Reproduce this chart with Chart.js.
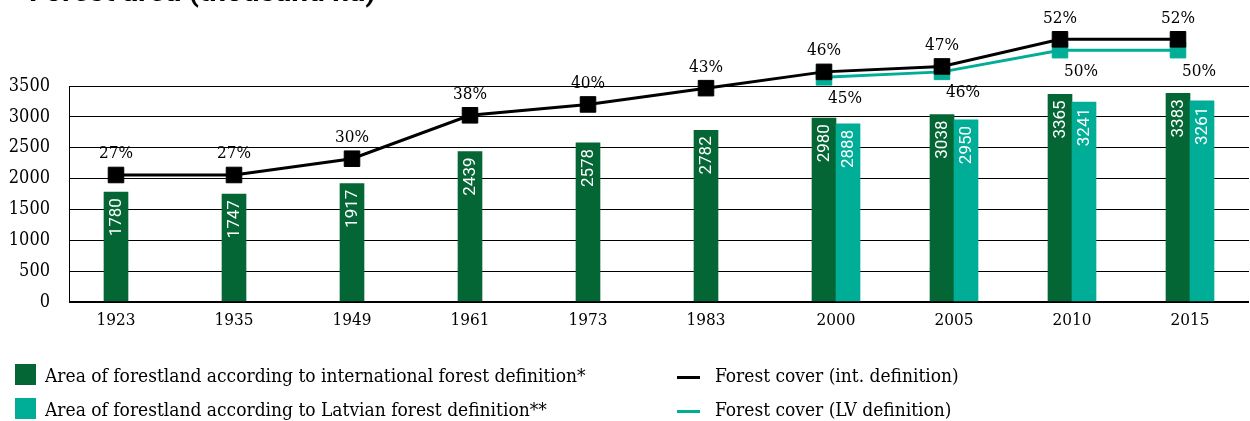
<!DOCTYPE html>
<html>
<head>
<meta charset="utf-8">
<script src="https://cdn.jsdelivr.net/npm/chart.js@4.4.1/dist/chart.umd.min.js"></script>
<style>
  html, body { margin: 0; padding: 0; background: #fff; }
  #wrap { position: relative; width: 1250px; height: 421px; }
</style>
</head>
<body>
<div id="wrap"><canvas id="forestChart"></canvas></div>
<script>
// Forest area (thousand ha) and forest cover (%) in Latvia
const years = ["1923", "1935", "1949", "1961", "1973", "1983", "2000", "2005", "2010", "2015"];
const areaIntl = [1780, 1747, 1917, 2439, 2578, 2782, 2980, 3038, 3365, 3383];
const areaLv = [null, null, null, null, null, null, 2888, 2950, 3241, 3261];
const coverIntl = [27, 27, 30, 38, 40, 43, 46, 47, 52, 52];
const coverLv = [null, null, null, null, null, null, 45, 46, 50, 50];
const areaTicks = [0, 500, 1000, 1500, 2000, 2500, 3000, 3500];

const title = "Forest area (thousand ha)";
const legendItems = [
    { text: "Area of forestland according to international forest definition*", kind: "box", color: "#046634" },
    { text: "Area of forestland according to Latvian forest definition**", kind: "box", color: "#00ad97" },
    { text: "Forest cover (int. definition)", kind: "line", color: "#000000" },
    { text: "Forest cover (LV definition)", kind: "line", color: "#00ad97" },
];

const DARK = "#046634";
const TEAL = "#00ad97";
const SERIF = "'DejaVu Serif Condensed', 'DejaVu Serif', serif";
const BAR_W = 24;          // px
const CAT_W = 118;         // px per year slot
const half = BAR_W / CAT_W / 2; // dark bar left of centre, teal right of it
const AREA_TOP = areaTicks[areaTicks.length - 1];

const labelPlugin = {
    id: "labels",
    beforeDatasetsDraw(chart) {
        // left axis line only as high as the last tick
        const ctx = chart.ctx;
        const y = chart.scales.y;
        const x = Math.round(chart.chartArea.left) + 0.5;
        ctx.save();
        ctx.strokeStyle = "#000";
        ctx.lineWidth = 1;
        ctx.beginPath();
        ctx.moveTo(x, y.getPixelForValue(0));
        ctx.lineTo(x, y.getPixelForValue(AREA_TOP));
        ctx.stroke();
        ctx.restore();
    },
    afterDatasetsDraw(chart) {
        const ctx = chart.ctx;
        ctx.save();

        // values inside the bars
        [areaIntl, areaLv].forEach((vals, di) => {
            chart.getDatasetMeta(di).data.forEach((bar, i) => {
                if (vals[i] == null) return;
                ctx.save();
                ctx.translate(bar.x, bar.y + 6);
                ctx.rotate(-Math.PI / 2);
                ctx.fillStyle = "#fff";
                ctx.font = "17px Roboto";
                ctx.textAlign = "right";
                ctx.textBaseline = "middle";
                ctx.fillText(String(vals[i]), 0, 1);
                ctx.restore();
            });
        });

        // percentage labels
        ctx.font = "17px " + SERIF;
        ctx.fillStyle = "#000";
        ctx.textAlign = "center";
        ctx.textBaseline = "middle";
        chart.getDatasetMeta(3).data.forEach((pt, i) => {
            if (coverIntl[i] == null) return;
            ctx.fillText(coverIntl[i] + "%", pt.x, pt.y - 21);
        });
        chart.getDatasetMeta(2).data.forEach((pt, i) => {
            if (coverLv[i] == null) return;
            ctx.fillText(coverLv[i] + "%", pt.x + 21, pt.y + 21);
        });

        // year labels, centred under the bars that are present
        years.forEach((yr, i) => {
            const xs = [areaIntl, areaLv]
                .map((vals, di) => (vals[i] == null ? null : chart.getDatasetMeta(di).data[i].x))
                .filter((x) => x != null);
            const x = xs.reduce((a, b) => a + b, 0) / xs.length;
            ctx.fillText(yr, x, chart.chartArea.bottom + 19);
        });

        // title (cut off at the top like the original)
        ctx.font = "bold 30px Roboto";
        ctx.textAlign = "left";
        ctx.textBaseline = "alphabetic";
        ctx.fillText(title, 29, 1);

        // legend
        ctx.font = "19px " + SERIF;
        legendItems.forEach((item, k) => {
            const row = k % 2;
            const top = 364 + row * 34;
            ctx.fillStyle = item.color;
            if (item.kind === "box") {
                ctx.fillRect(15, top, 21, 21);
                ctx.fillStyle = "#000";
                ctx.fillText(item.text, 45, top + 18);
            } else {
                ctx.fillRect(677, top + 12, 23, 3);
                ctx.fillStyle = "#000";
                ctx.fillText(item.text, 715, top + 18);
            }
        });
        ctx.restore();
    },
};

const lineStyle = (color, order) => ({
    type: "line",
    borderColor: color,
    backgroundColor: color,
    borderWidth: 3,
    pointStyle: "rect",
    pointRadius: 11,
    pointBorderWidth: 1,
    pointBackgroundColor: color,
    pointBorderColor: color,
    clip: false,
    order: order,
});

const ctx = document.getElementById("forestChart").getContext("2d");
new Chart(ctx, {
    type: "bar",
    data: {
        datasets: [
            {
                label: legendItems[0].text,
                data: areaIntl.map((v, i) => ({ x: i - half, y: v })),
                backgroundColor: DARK,
                grouped: false,
                barThickness: BAR_W,
                order: 3,
            },
            {
                label: legendItems[1].text,
                data: areaLv.map((v, i) => ({ x: i + half, y: v })),
                backgroundColor: TEAL,
                grouped: false,
                barThickness: BAR_W,
                order: 2,
            },
            {
                label: legendItems[3].text,
                data: coverLv.map((v, i) => ({ x: i - half, y: v })),
                yAxisID: "yp",
                ...lineStyle(TEAL, 1),
            },
            {
                label: legendItems[2].text,
                data: coverIntl.map((v, i) => ({ x: i - half, y: v })),
                yAxisID: "yp",
                ...lineStyle("#000", 0),
            },
        ],
    },
    options: {
        responsive: true,
        maintainAspectRatio: false,
        animation: false,
        // plot area runs from y=10 to y=302; the bar axis only shows 0..3500
        layout: { autoPadding: false, padding: { top: 10, right: 1, left: 0, bottom: 119 } },
        plugins: {
            legend: { display: false },
            tooltip: { enabled: false },
        },
        scales: {
            x: {
                type: "linear",
                display: false,
                offset: false,
                min: -0.5,
                max: years.length - 0.5,
            },
            y: {
                min: 0,
                max: AREA_TOP * 292 / 216,
                afterBuildTicks: (s) => { s.ticks = areaTicks.map((v) => ({ value: v })); },
                ticks: {
                    color: "#000",
                    font: { family: SERIF, size: 18 },
                    padding: 19,
                    callback: (v) => String(v),
                },
                grid: {
                    color: "#000",
                    lineWidth: (c) => (c.tick && c.tick.value === 0 ? 2 : 1),
                    drawTicks: false,
                },
                border: { display: false },
                afterFit: (s) => {
                    s.width = 69;
                    s.paddingTop = 0;
                    s.paddingBottom = 0;
                },
            },
            yp: {
                type: "linear",
                display: false,
                min: 3.6,
                max: 57.4,
            },
        },
    },
    plugins: [labelPlugin],
});
</script>
</body>
</html>
